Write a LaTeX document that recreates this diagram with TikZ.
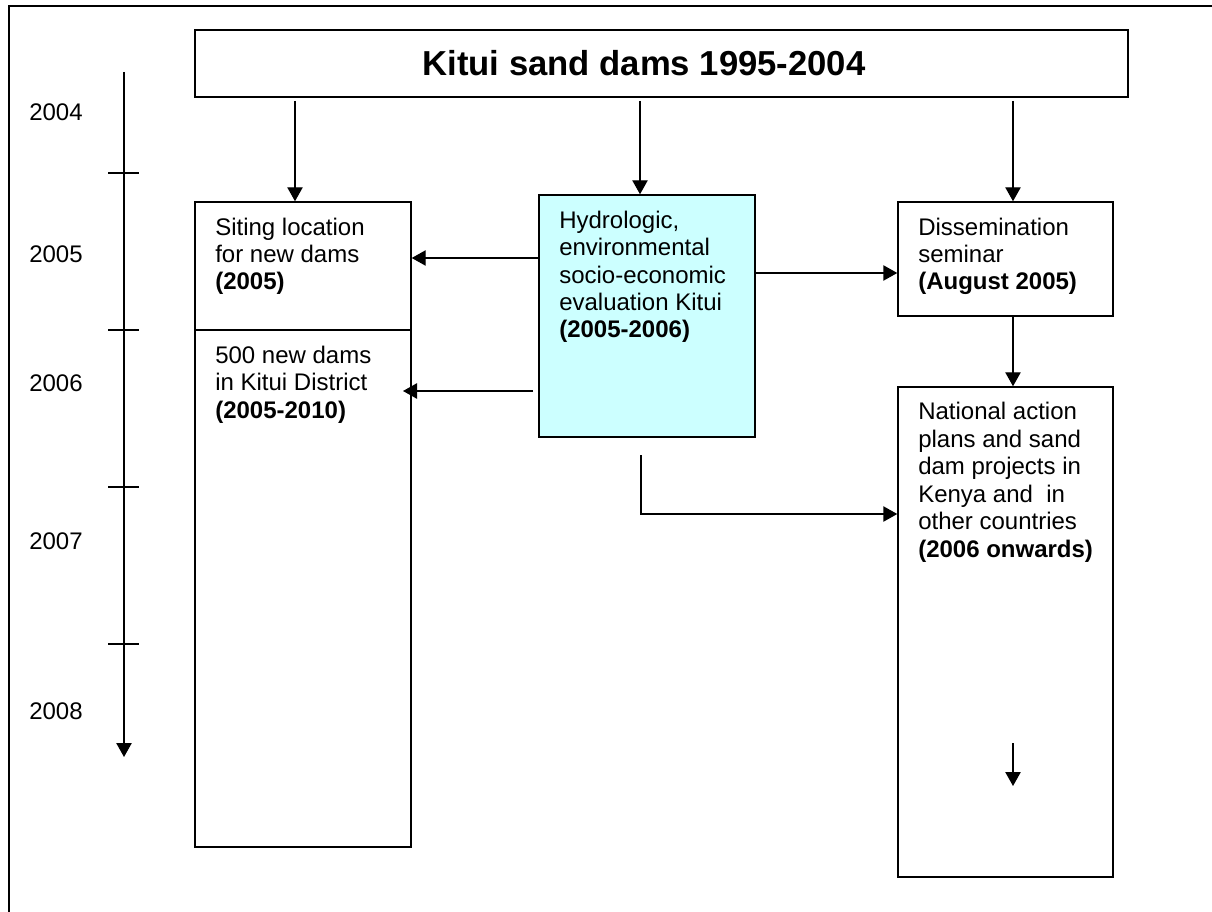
\documentclass[tikz,border=0pt]{standalone}
\usepackage{fontspec}
\setmainfont{Liberation Sans}
\usetikzlibrary{arrows.meta,fit}
\definecolor{cyanfill}{HTML}{CCFFFF}
\begin{document}
\begin{tikzpicture}[x=0.75pt,y=-0.75pt,
  box/.style={draw=black,line width=1.1pt,inner sep=0pt},
  txt/.style={anchor=base west,align=left,inner sep=0pt,font=\fontsize{18}{20.6}\selectfont},
  yr/.style={anchor=base west,inner sep=0pt,font=\fontsize{18}{20.6}\selectfont},
  arr/.style={line width=1.1pt,-{Triangle[length=10.5pt,width=11.5pt]}},
  ln/.style={line width=1.1pt}]
\useasboundingbox (0,0) rectangle (1212,912);
% outer frame
\draw[line width=1.5pt] (9,912) -- (9,6) -- (1212,6);
% title
\node[box, fit={(195,30) (1128,97)}] (title) {};
\node[anchor=base, inner sep=0pt, font=\fontsize{26}{30}\selectfont\bfseries] (titletext) at (644,76) {Kitui sand dams 1995-2004};
% boxes
\node[box, fit={(195,202) (411,847)}] (left) {};
\node[box, fill=cyanfill, fit={(539,195) (755,437)}] (hyd) {};
\node[box, fit={(898,202) (1113,316)}] (dis) {};
\node[box, fit={(898,387) (1113,877)}] (nat) {};
\coordinate (dv) at (0,330);
\draw[ln] (left.west |- dv) -- (left.east |- dv);
% timeline
\coordinate (tl0) at (124,72);
\coordinate (tl1) at (124,757);
\draw[arr] (tl0) -- (tl1);
\foreach \yy in {173,330,487,644} { \draw[ln] (108,\yy) -- (139,\yy); }
% years
\node[yr] (y2004) at (29,121) {2004};
\node[yr] (y2005) at (29,263) {2005};
\node[yr] (y2006) at (29,392) {2006};
\node[yr] (y2007) at (29,549) {2007};
\node[yr] (y2008) at (29,719) {2008};
% arrows from title
\coordinate (tA) at (295,101);
\coordinate (tB) at (640,101);
\coordinate (tC) at (1013,101);
\draw[arr] (tA) -- (tA |- left.north);
\draw[arr] (tB) -- (tB |- hyd.north);
\draw[arr] (tC) -- (tC |- dis.north);
% arrows from hyd
\coordinate (h1) at (539,258);
\draw[arr] (hyd.west |- h1) -- (left.east |- h1);
\coordinate (h2a) at (533,391);
\coordinate (h2b) at (403,391);
\draw[arr] (h2a) -- (h2b);
\coordinate (h3) at (0,273);
\draw[arr] (hyd.east |- h3) -- (dis.west |- h3);
\draw[arr] (dis.south -| tC) -- (nat.north -| tC);
\coordinate (b1) at (641,455);
\coordinate (b2) at (641,514);
\draw[arr] (b1) -- (b2) -- (nat.west |- b2);
\coordinate (n1) at (1013,743);
\coordinate (n2) at (1013,786);
\draw[arr] (n1) -- (n2);
% texts (anchored at the baseline of the last line)
\node[txt] (t1) at (215,290) {Siting location\\for new dams\\\textbf{(2005)}};
\node[txt] (t2) at (215,418) {500 new dams\\in Kitui District\\\textbf{(2005-2010)}};
\node[txt] (t3) at (559,338) {Hydrologic,\\environmental\\socio-economic\\evaluation Kitui\\\textbf{(2005-2006)}};
\node[txt] (t4) at (918,290) {Dissemination\\seminar\\\textbf{(August 2005)}};
\node[txt] (t5) at (918,557) {National action\\plans and sand\\dam projects in\\Kenya and\ \ in\\other countries\\\textbf{(2006 onwards)}};
\end{tikzpicture}
\end{document}
